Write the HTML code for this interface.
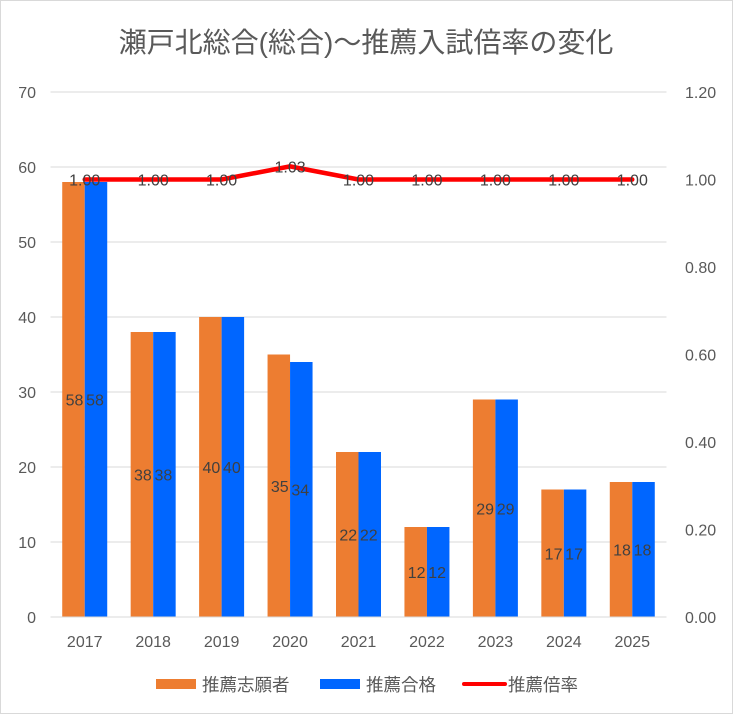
<!DOCTYPE html>
<html><head><meta charset="utf-8"><style>
body{margin:0;background:#fff}
svg{display:block;font-family:"Liberation Sans","Noto Sans CJK JP",sans-serif}
</style></head><body>
<svg width="733" height="714">
<rect x="0.5" y="0.5" width="732" height="713" fill="#fff" stroke="#d9d9d9"/>
<text x="366" y="52" text-anchor="middle" font-size="28" fill="#595959">瀬戸北総合(総合)～推薦入試倍率の変化</text>
<g id="grid"></g><g id="bars"></g><g id="line"></g><g id="labels"></g><g id="axes"></g>
<g>
<rect x="156" y="679" width="40" height="10" fill="#ed7d31"/>
<text x="202" y="691" font-size="17.5" fill="#595959">推薦志願者</text>
<rect x="320" y="679" width="40" height="10" fill="#0066ff"/>
<text x="366" y="691" font-size="17.5" fill="#595959">推薦合格</text>
<line x1="464" y1="684" x2="505" y2="684" stroke="#ff0000" stroke-width="4" stroke-linecap="round"/>
<text x="508" y="691" font-size="17.5" fill="#595959">推薦倍率</text>
</g>
</svg>
<script>
const categories=["2017","2018","2019","2020","2021","2022","2023","2024","2025"];
const applicants=[58,38,40,35,22,12,29,17,18];
const passed=[58,38,40,34,22,12,29,17,18];
const ratio=[1.00,1.00,1.00,1.03,1.00,1.00,1.00,1.00,1.00];
const leftTicks=[0,10,20,30,40,50,60,70];
const rightTicks=["0.00","0.20","0.40","0.60","0.80","1.00","1.20"];
const NS="http://www.w3.org/2000/svg";
const X0=50.5,X1=666.5,Y0=617,Y1=92;
const step=(X1-X0)/categories.length;
const yL=v=>Y0-(v/70)*(Y0-Y1);
const yR=v=>Y0-(v/1.2)*(Y0-Y1);
const xc=i=>X0+step*(i+0.5);
function mk(tag,attrs,parent,txt){const e=document.createElementNS(NS,tag);for(const k in attrs)e.setAttribute(k,attrs[k]);if(txt!==undefined)e.textContent=txt;document.getElementById(parent).appendChild(e);return e;}
leftTicks.forEach(t=>{
 if(t>0){const g=mk("line",{x1:X0,x2:X1,y1:yL(t),y2:yL(t),stroke:"#d9d9d9"},"grid");
 
 }
 const l=mk("text",{x:36,y:yL(t)+6,"text-anchor":"end","font-size":"16",fill:"#595959"},"axes",String(t));
 
 
});
rightTicks.forEach(t=>{
 const l=mk("text",{x:685,y:yR(parseFloat(t))+6,"font-size":"16",fill:"#595959"},"axes",t);
 
 
});
const ax=mk("line",{x1:X0,x2:X1,y1:Y0,y2:Y0,stroke:"#d9d9d9"},"axes");


const bw=22.5;
categories.forEach((c,i)=>{
 const cx=xc(i);
 const a=mk("rect",{x:cx-bw,y:yL(applicants[i]),width:bw,height:Y0-yL(applicants[i]),fill:"#ed7d31"},"bars");
 
 
 const p=mk("rect",{x:cx,y:yL(passed[i]),width:bw,height:Y0-yL(passed[i]),fill:"#0066ff"},"bars");
 
 
 const la=mk("text",{x:cx-bw/2+1,y:(yL(applicants[i])+Y0)/2+6,"text-anchor":"middle","font-size":"16",fill:"#404040"},"labels",String(applicants[i]));
 
 
 const lp=mk("text",{x:cx+bw/2-1,y:(yL(passed[i])+Y0)/2+6,"text-anchor":"middle","font-size":"16",fill:"#404040"},"labels",String(passed[i]));
 
 
 const xl=mk("text",{x:cx,y:647,"text-anchor":"middle","font-size":"16",fill:"#595959"},"axes",c);
 
 
 const rl=mk("text",{x:cx,y:yR(ratio[i])+6,"text-anchor":"middle","font-size":"16",fill:"#404040"},"labels",ratio[i].toFixed(2));
 
 
});
const pl=mk("polyline",{points:ratio.map((r,i)=>xc(i)+","+yR(r)).join(" "),fill:"none",stroke:"#ff0000","stroke-width":"4.5","stroke-linejoin":"round","stroke-linecap":"round"},"line");


</script>
</body></html>
